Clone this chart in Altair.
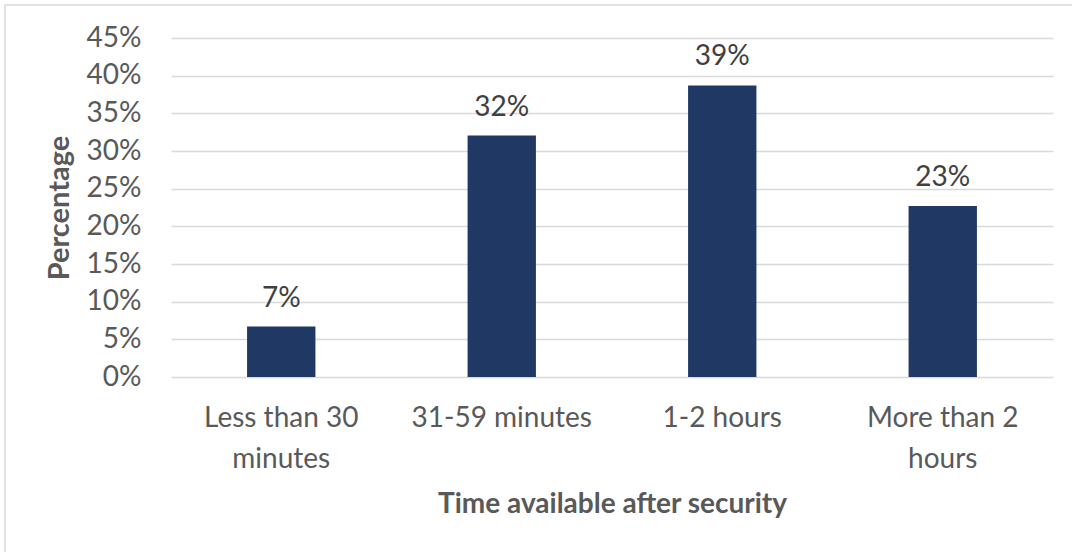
import altair as alt
import pandas as pd

categories = ["Less than 30 minutes", "31-59 minutes", "1-2 hours", "More than 2 hours"]
label_lines = ["Less than 30|minutes", "31-59 minutes", "1-2 hours", "More than 2|hours"]
values = [6.7, 32.05, 38.7, 22.7]
y_ticks = [0, 5, 10, 15, 20, 25, 30, 35, 40, 45]

df = pd.DataFrame({"cat": categories, "value": values, "lab": label_lines})

FONT = "Lato"
GREY = "#595959"
FS = 28

label_map = "{" + ",".join(f"'{c}':'{l}'" for c, l in zip(categories, label_lines)) + "}"

x_scale = alt.Scale(paddingInner=0.69, paddingOuter=0.345)
y_scale = alt.Scale(domain=[0, 45], nice=False)

x_enc = alt.X(
    "cat:N",
    sort=categories,
    scale=x_scale,
    axis=alt.Axis(
        title="Time available after security",
        labelAngle=0,
        labelExpr=f"split({label_map}[datum.value], '|')",
        labelFontSize=FS,
        labelColor=GREY,
        labelFont=FONT,
        labelPadding=27,
        labelLineHeight=41,
        labelBaseline="top",
        labelOverlap=False,
        labelLimit=400,
        ticks=False,
        domain=False,
        grid=False,
        titleFontSize=FS,
        titleFont=FONT,
        titleFontWeight="bold",
        titleColor=GREY,
        titlePadding=17,
    ),
)

y_enc = alt.Y(
    "value:Q",
    scale=y_scale,
    axis=alt.Axis(
        title="Percentage",
        values=y_ticks,
        labelExpr="datum.value + '%'",
        labelFontSize=FS,
        labelColor=GREY,
        labelFont=FONT,
        labelPadding=30,
        labelOverlap=False,
        labelBound=False,
        labelFlush=False,
        ticks=False,
        domain=False,
        grid=True,
        gridColor="#d9d9d9",
        gridWidth=1.3,
        titleFontSize=FS + 1,
        titleFont=FONT,
        titleFontWeight="bold",
        titleColor=GREY,
        titlePadding=12,
    ),
)

base = alt.Chart(df).encode(x=x_enc, y=y_enc)

bars = base.mark_bar(color="#203864")

labels = (
    base.transform_calculate(txt="format(datum.value, '.0f') + '%'")
    .mark_text(font=FONT, fontSize=FS, color="#404040", baseline="alphabetic", dy=-20)
    .encode(text="txt:N")
)

border = alt.Chart(alt.Data(values=[{"a": 1}])).mark_rect(
    fill=None, fillOpacity=0, stroke="#d9d9d9", strokeWidth=1.5
).encode(
    x=alt.value(-166), x2=alt.value(1100), y=alt.value(-33), y2=alt.value(600)
)

chart = (
    alt.layer(border, bars, labels)
    .properties(
        width=882,
        height=339,
        autosize=alt.AutoSizeParams(type="none"),
        padding={"left": 171, "top": 38, "right": 19, "bottom": 175},
        background="white",
    )
    .configure_view(stroke=None)
)

chart.save("out.html", embed_options={"renderer": "svg", "actions": False})
